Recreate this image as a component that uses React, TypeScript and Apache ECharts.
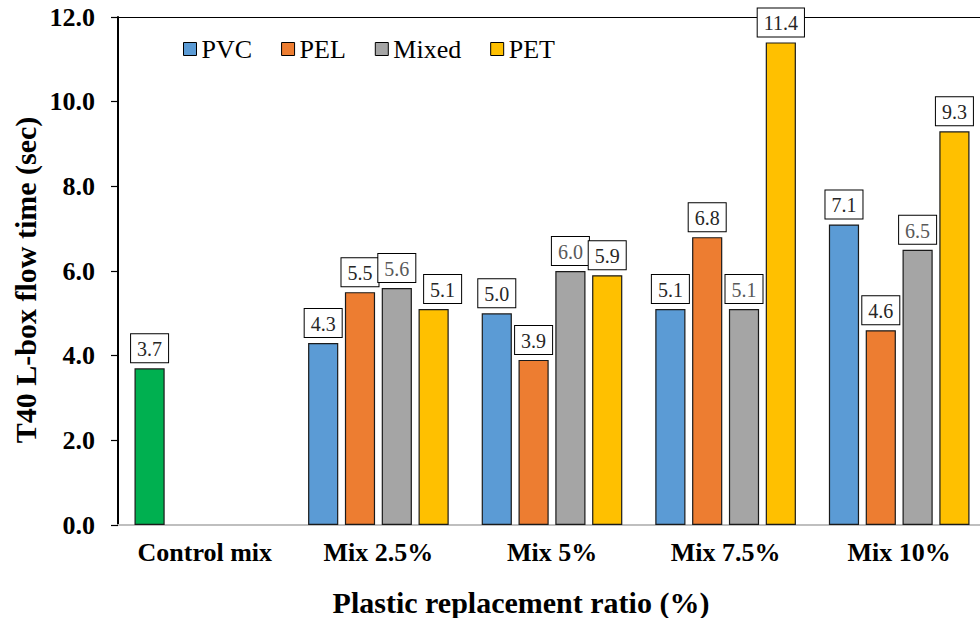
import React, { useEffect, useRef } from "react";
import * as echarts from "echarts";

const categories = ["Control mix", "Mix 2.5%", "Mix 5%", "Mix 7.5%", "Mix 10%"];
const controlMix = 3.7;
const pvc = [null, 4.3, 5.0, 5.1, 7.1];
const pel = [null, 5.5, 3.9, 6.8, 4.6];
const mixed = [null, 5.6, 6.0, 5.1, 6.5];
const pet = [null, 5.1, 5.9, 11.4, 9.3];
const yTicks = { min: 0, max: 12, interval: 2 };

const FONT = "Liberation Serif";

export default function App() {
  const ref = useRef<HTMLDivElement>(null);
  useEffect(() => {
    if (!ref.current) return;
    const chart = echarts.init(ref.current, null, { renderer: "svg" });
    const label = (color: string) => ({
      show: true,
      position: "top",
      distance: 6,
      formatter: (p: any) => Number(p.value).toFixed(1),
      fontFamily: FONT,
      fontSize: 20,
      color,
      backgroundColor: "#fff",
      borderColor: "#000",
      borderWidth: 1,
      padding: [4, 6, 2, 6],
      lineHeight: 22,
    });
    const mk = (name: string, color: string, data: any[], labelColor: string) => ({
      name,
      type: "bar",
      data,
      itemStyle: { color, borderColor: "#1a1a1a", borderWidth: 1.2 },
      label: label(labelColor),
      barGap: "22%",
      barCategoryGap: "19%",
    });
    const pvcData = pvc.map((v, i) =>
      i === 0 ? { value: controlMix, itemStyle: { color: "#00B050" } } : v == null ? "-" : v
    );
    const dash = (arr: (number | null)[]) => arr.map((v) => (v == null ? "-" : v));
    const petData = pet.map((v, i) =>
      v == null ? "-" : i === 1 ? { value: v, label: { offset: [9, 0] } } : v
    );
    chart.setOption({
      animation: false,
      textStyle: { fontFamily: FONT },
      grid: {
        left: 118,
        top: 17,
        right: -6,
        bottom: 93,
        containLabel: false,
        outerBoundsMode: "none",
      },
      legend: {
        data: ["PVC", "PEL", "Mixed", "PET"],
        left: 178,
        top: 31,
        icon: "rect",
        itemWidth: 13,
        itemHeight: 13,
        itemGap: 29,
        itemStyle: { borderColor: "#000", borderWidth: 1 },
        textStyle: { fontFamily: FONT, fontSize: 26, color: "#000" },
      },
      xAxis: [
        {
          type: "category",
          data: categories,
          axisLine: { lineStyle: { color: "#bfbfbf", width: 2 } },
          axisTick: { show: false },
          axisLabel: {
            interval: 0,
            hideOverlap: false,
            margin: 14,
            fontFamily: FONT,
            fontWeight: "bold",
            fontSize: 26,
            color: "#000",
          },
        },
        {
          type: "category",
          data: categories,
          position: "top",
          axisLine: { lineStyle: { color: "#000", width: 1 } },
          axisTick: { show: false },
          axisLabel: { show: false },
        },
      ],
      yAxis: {
        type: "value",
        min: yTicks.min,
        max: yTicks.max,
        interval: yTicks.interval,
        axisLine: { show: true, lineStyle: { color: "#000", width: 2 } },
        axisTick: { show: true, inside: false, length: 7, lineStyle: { color: "#000", width: 1.2 } },
        splitLine: { show: false },
        axisLabel: {
          margin: 23,
          formatter: (v: number) => v.toFixed(1),
          fontFamily: FONT,
          fontWeight: "bold",
          fontSize: 26,
          color: "#000",
        },
      },
      graphic: [
        {
          type: "text",
          x: 521,
          y: 602,
          style: {
            text: "Plastic replacement ratio (%)",
            fontFamily: FONT,
            fontWeight: "bold",
            fontSize: 30,
            fill: "#000",
            textAlign: "center",
            textVerticalAlign: "middle",
          },
        },
        {
          type: "text",
          x: 25,
          y: 280,
          rotation: Math.PI / 2,
          style: {
            text: "T40 L-box flow time (sec)",
            fontFamily: FONT,
            fontWeight: "bold",
            fontSize: 30,
            fill: "#000",
            textAlign: "center",
            textVerticalAlign: "middle",
          },
        },
      ],
      series: [
        mk("PVC", "#5B9BD5", pvcData, "#262626"),
        mk("PEL", "#ED7D31", dash(pel), "#262626"),
        mk("Mixed", "#A5A5A5", dash(mixed), "#595959"),
        mk("PET", "#FFC000", petData, "#262626"),
      ],
    });
    return () => chart.dispose();
  }, []);
  return <div ref={ref} style={{ width: 980, height: 618, position: "absolute", left: 0, top: 0 }} />;
}
